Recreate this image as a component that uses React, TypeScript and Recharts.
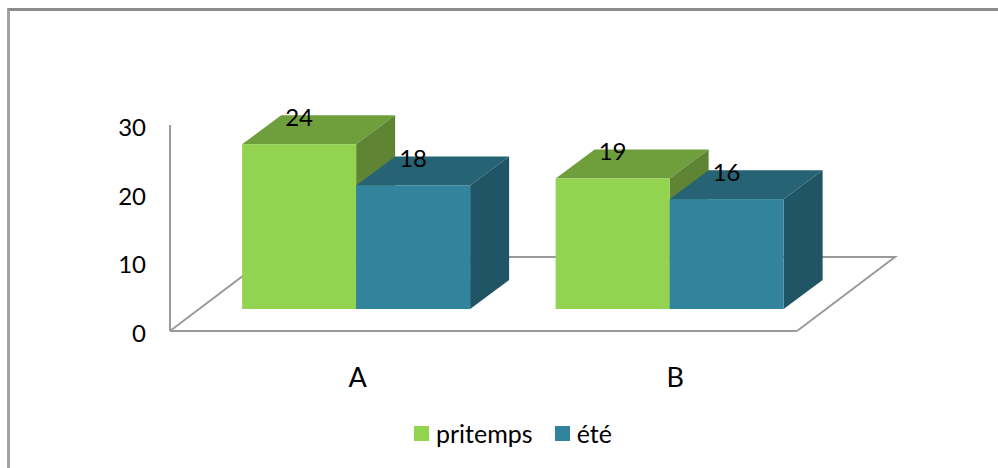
import { BarChart, Bar, XAxis, YAxis, Legend, LabelList, Customized, usePlotArea } from 'recharts';

const categories = ['A', 'B'];
const printemps = [24, 19];
const ete = [18, 16];
const yTicks = [0, 10, 20, 30];

const data = categories.map((name, i) => ({ name, printemps: printemps[i], ete: ete[i] }));

const FONT = 'Lato, sans-serif';
const AXIS_GRAY = '#9a9a9a';

// fake 3D: where the bars stand on the floor, and how deep they are
const STAND_DX = 29.5;
const STAND_DY = -22;
const DEPTH_DX = 39;
const DEPTH_DY = -29;
const FLOOR_DX = 98;
const FLOOR_DY = -74;

function Floor() {
  const plot = usePlotArea();
  if (!plot) return null;
  const left = plot.x;
  const right = plot.x + plot.width;
  const bottom = plot.y + plot.height;
  const points = [
    [left, bottom],
    [left + FLOOR_DX, bottom + FLOOR_DY],
    [right + FLOOR_DX, bottom + FLOOR_DY],
    [right, bottom],
  ];
  return (
    <polyline
      points={points.map((p) => p.join(',')).join(' ')}
      fill="none"
      stroke={AXIS_GRAY}
      strokeWidth={2}
    />
  );
}

function Box(props: any) {
  const { x, y, width, height, fill, topFill, sideFill } = props;
  const x0 = x + STAND_DX;
  const y0 = y + STAND_DY;
  const x1 = x0 + width;
  const y1 = y0 + height;
  const top = `${x0},${y0} ${x0 + DEPTH_DX},${y0 + DEPTH_DY} ${x1 + DEPTH_DX},${y0 + DEPTH_DY} ${x1},${y0}`;
  const side = `${x1},${y0} ${x1 + DEPTH_DX},${y0 + DEPTH_DY} ${x1 + DEPTH_DX},${y1 + DEPTH_DY} ${x1},${y1}`;
  return (
    <g>
      <polygon points={top} fill={topFill} />
      <polygon points={side} fill={sideFill} />
      <rect x={x0} y={y0} width={width} height={height} fill={fill} />
    </g>
  );
}

function BoxLabel(props: any) {
  const { x, y, width, value } = props;
  return (
    <text
      x={x + STAND_DX + width / 2}
      y={y + STAND_DY - 28}
      textAnchor="middle"
      dominantBaseline="central"
      fontFamily={FONT}
      fontSize={24}
      fill="#000"
    >
      {value}
    </text>
  );
}

function CategoryTick(props: any) {
  const { x, y, index, payload } = props;
  return (
    <text
      x={x + STAND_DX + 1.5 + index * 4}
      y={y - 1}
      textAnchor="middle"
      dominantBaseline="central"
      fontFamily={FONT}
      fontSize={27}
      fill="#000"
    >
      {payload.value}
    </text>
  );
}

function ValueTick(props: any) {
  const { x, y, payload } = props;
  return (
    <text x={x} y={y + 1.5} textAnchor="end" dominantBaseline="central" fontFamily={FONT} fontSize={24} fill="#000">
      {payload.value}
    </text>
  );
}

function LegendRow(props: any) {
  return (
    <div style={{ display: 'flex', alignItems: 'center', fontFamily: FONT, fontSize: 25, color: '#000' }}>
      {props.payload.map((entry: any, i: number) => (
        <span key={entry.value} style={{ display: 'flex', alignItems: 'center', marginRight: i === 0 ? 22 : 0 }}>
          <span style={{ width: 15, height: 15, background: entry.color, marginRight: 7 }} />
          {entry.value}
        </span>
      ))}
    </div>
  );
}

export default function App() {
  return (
    <div style={{ position: 'absolute', left: 0, top: 0, width: 998, height: 468, overflow: 'hidden', background: '#fff' }}>
      <div
        style={{
          position: 'absolute',
          left: 7,
          top: 8,
          width: 1000,
          height: 500,
          borderLeft: '3px solid #a2a2a2',
          borderTop: '3px solid #8c8c8c',
        }}
      />
      <BarChart
        width={998}
        height={468}
        data={data}
        margin={{ top: 125, right: 201, bottom: 37, left: 0 }}
        barCategoryGap="13.6%"
        barGap={0}
        style={{ position: 'absolute', left: 0, top: 0 }}
      >
        <Customized component={Floor} />
        <XAxis
          dataKey="name"
          height={60}
          tickLine={false}
          tickSize={0}
          tickMargin={46}
          tick={<CategoryTick />}
          axisLine={{ stroke: AXIS_GRAY, strokeWidth: 2 }}
        />
        <YAxis
          width={170}
          domain={[0, 30]}
          ticks={yTicks}
          tickLine={false}
          tickSize={0}
          tickMargin={24}
          axisLine={{ stroke: AXIS_GRAY, strokeWidth: 2 }}
          tick={<ValueTick />}
        />
        <Legend
          verticalAlign="bottom"
          height={40}
          content={<LegendRow />}
          wrapperStyle={{ left: 414, bottom: 10, width: 240 }}
        />
        <Bar
          dataKey="printemps"
          name="pritemps"
          fill="#92d350"
          isAnimationActive={false}
          shape={<Box topFill="#6f9f3d" sideFill="#5f8534" />}
        >
          <LabelList dataKey="printemps" content={<BoxLabel />} />
        </Bar>
        <Bar
          dataKey="ete"
          name="été"
          fill="#31849b"
          isAnimationActive={false}
          shape={<Box topFill="#256375" sideFill="#205565" />}
        >
          <LabelList dataKey="ete" content={<BoxLabel />} />
        </Bar>
      </BarChart>
    </div>
  );
}
